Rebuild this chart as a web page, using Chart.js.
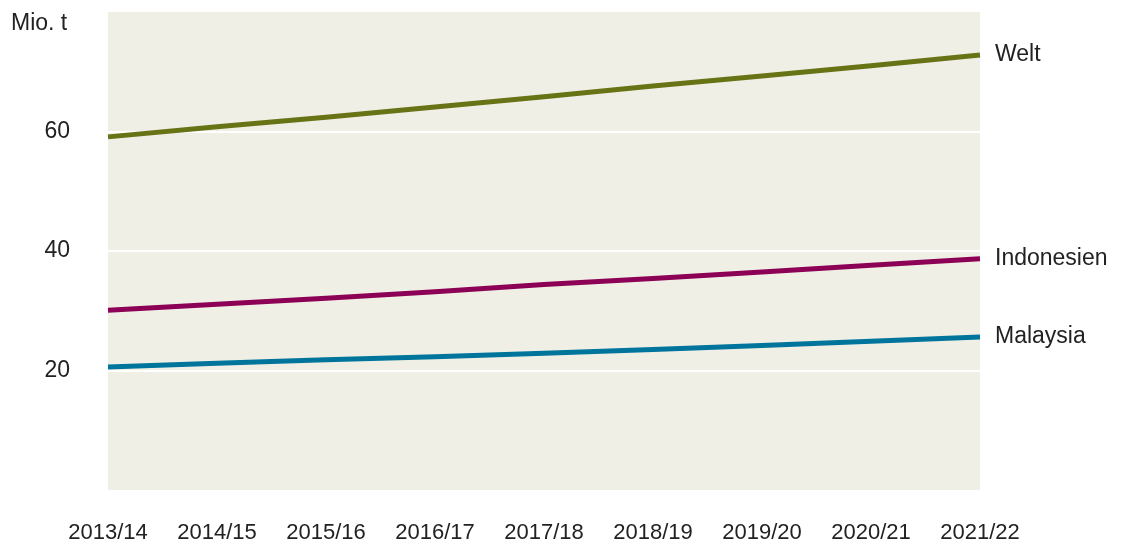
<!DOCTYPE html>
<html>
<head>
<meta charset="utf-8">
<script src="https://cdn.jsdelivr.net/npm/chart.js@4"></script>
<style>
  html, body { margin: 0; padding: 0; background: #fff; }
  #wrap { width: 1122px; height: 544px; }
</style>
</head>
<body>
<div id="wrap"><canvas id="chart" width="1122" height="544"></canvas></div>
<script>
// ── Data ─────────────────────────────────────────────
const seasons = ['2013/14', '2014/15', '2015/16', '2016/17', '2017/18', '2018/19', '2019/20', '2020/21', '2021/22'];
const welt = [59.1, 60.8, 62.4, 64.1, 65.8, 67.6, 69.3, 71.0, 72.8];
const indonesien = [30.1, 31.1, 32.1, 33.2, 34.4, 35.4, 36.5, 37.6, 38.7];
const malaysia = [20.6, 21.2, 21.8, 22.3, 22.9, 23.5, 24.2, 24.9, 25.6];
const yTicks = [20, 40, 60];
const unitLabel = 'Mio. t';

const FONT = '"Liberation Sans", Arial, sans-serif';
const TEXT = '#222';

// ── Plugins ──────────────────────────────────────────
const plotBg = {
    id: 'plotBg',
    beforeDraw(chart) {
        const { ctx, chartArea: a } = chart;
        ctx.save();
        ctx.fillStyle = '#efefe6';
        ctx.fillRect(a.left, a.top, a.right - a.left, a.bottom - a.top);
        ctx.restore();
    }
};

const endLabels = {
    id: 'endLabels',
    afterDatasetsDraw(chart) {
        const { ctx } = chart;
        ctx.save();
        ctx.font = '23px ' + FONT;
        ctx.fillStyle = TEXT;
        ctx.textBaseline = 'middle';
        chart.data.datasets.forEach((ds, i) => {
            const pts = chart.getDatasetMeta(i).data;
            const last = pts[pts.length - 1];
            ctx.fillText(ds.label, last.x + 15, last.y);
        });
        // unit label top left
        ctx.textBaseline = 'alphabetic';
        ctx.fillText(unitLabel, 11, 30);
        ctx.restore();
    }
};

// ── Chart ────────────────────────────────────────────
const line = (label, data, color) => ({
    label, data,
    borderColor: color,
    borderWidth: 5,
    pointRadius: 0,
    tension: 0,
    fill: false
});

new Chart(document.getElementById('chart'), {
    type: 'line',
    data: {
        labels: seasons,
        datasets: [
            line('Welt', welt, '#687316'),
            line('Indonesien', indonesien, '#8c0055'),
            line('Malaysia', malaysia, '#00759b')
        ]
    },
    options: {
        responsive: false,
        animation: false,
        layout: { padding: { top: 12, right: 142, left: 0, bottom: 0 } },
        plugins: { legend: { display: false }, tooltip: { enabled: false } },
        scales: {
            x: {
                offset: false,
                grid: { display: false, drawTicks: false },
                border: { display: false },
                ticks: {
                    font: { family: FONT, size: 22 },
                    color: TEXT,
                    padding: 30,
                    maxRotation: 0,
                    autoSkip: false
                },
                afterFit(scale) { scale.height = 54; }
            },
            y: {
                min: 0, max: 80,
                border: { display: false },
                afterBuildTicks(scale) {
                    scale.ticks = [0, ...yTicks, 80].map(v => ({ value: v }));
                },
                grid: {
                    color: (c) => yTicks.includes(c.tick.value) ? '#ffffff' : 'rgba(0,0,0,0)',
                    lineWidth: 2,
                    drawTicks: false
                },
                ticks: {
                    font: { family: FONT, size: 23 },
                    color: TEXT,
                    padding: 38,
                    callback: (v) => yTicks.includes(v) ? String(v) : ''
                },
                afterFit(scale) {
                    scale.width = 108;
                    scale.paddingTop = 0;
                    scale.paddingBottom = 0;
                }
            }
        }
    },
    plugins: [plotBg, endLabels]
});
</script>
</body>
</html>
